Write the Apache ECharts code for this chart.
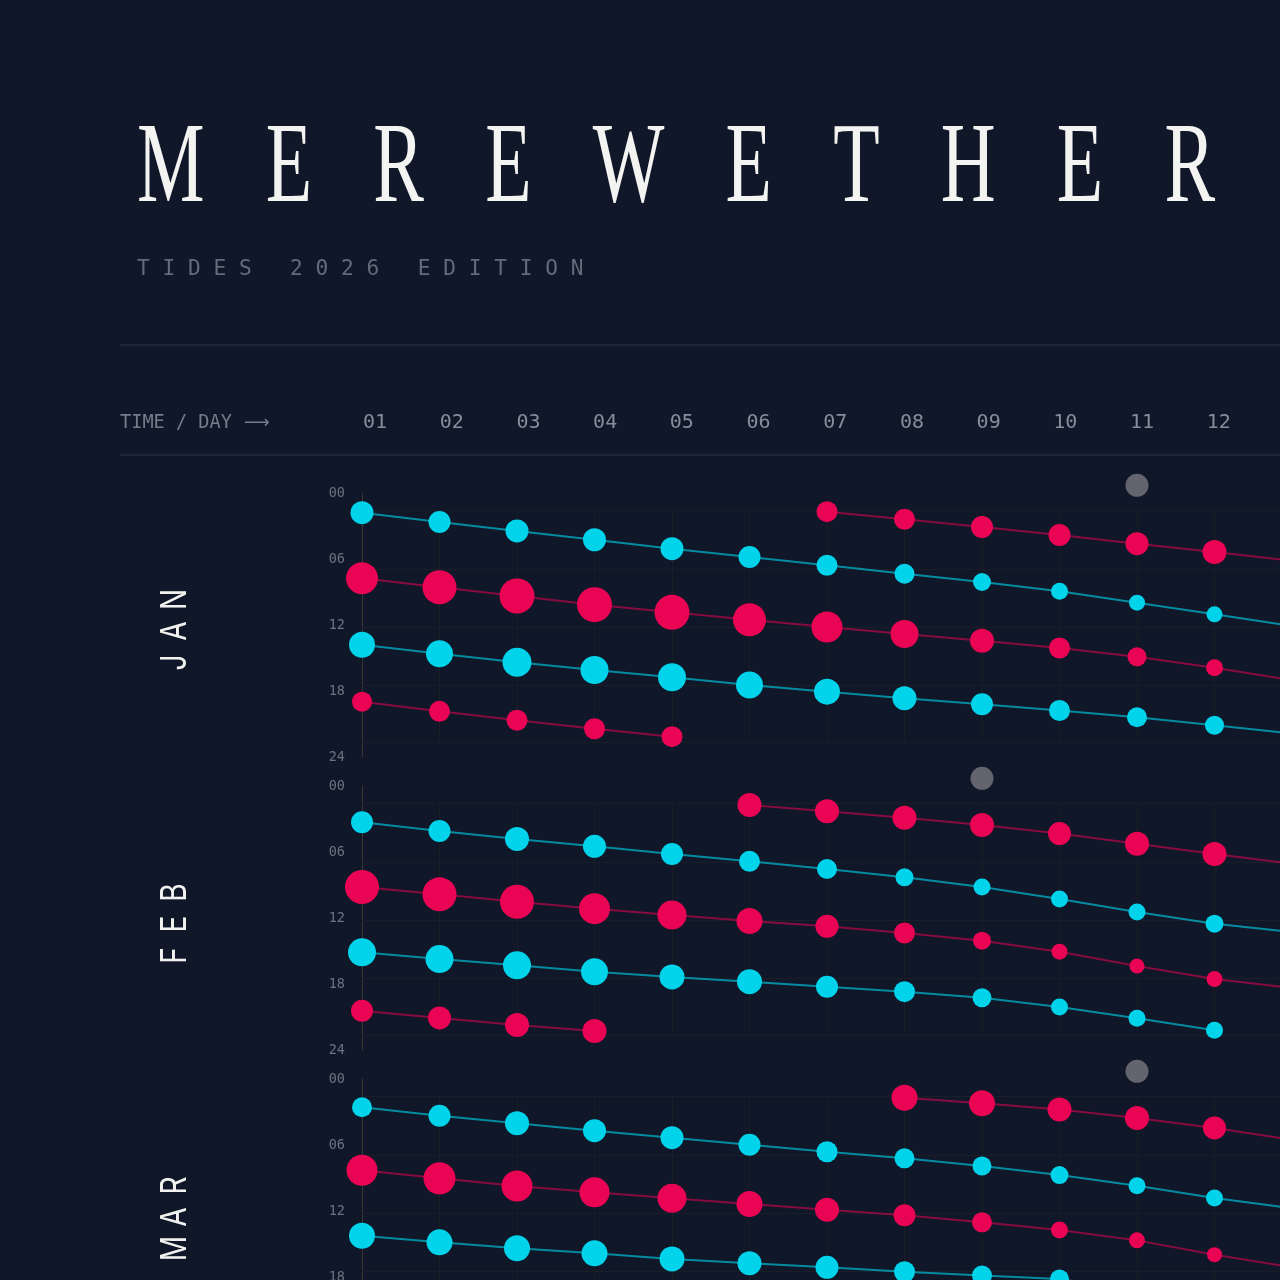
<!DOCTYPE html>
<html>
<head>
<meta charset="utf-8">
<title>Merewether tides</title>
<script src="https://cdn.jsdelivr.net/npm/echarts@6/dist/echarts.min.js"></script>
<style>
    html, body { margin: 0; padding: 0; width: 1280px; height: 1280px; overflow: hidden; background: #0f1729; }
    #tides { width: 1500px; height: 1500px; }
</style>
</head>
<body>
<div id="tides"></div>
<script>
    // months shown, one panel each
    const months = ['JAN', 'FEB', 'MAR'];

    // tide tracks: [hour of day, height in m], one entry per day from the start day
    // JAN
    const janLowA = [[1.79, 1.15], [2.64, 1.10], [3.45, 1.15], [4.25, 1.15], [5.06, 1.15], [5.82, 1.10], [6.57, 1.05], [7.34, 1.00], [8.09, 0.90], [8.94, 0.85], [9.97, 0.80], [11.03, 0.80], [12.10, 0.75]];
    const janHighB = [[1.70, 1.05], [2.39, 1.05], [3.09, 1.10], [3.82, 1.10], [4.61, 1.15], [5.36, 1.20], [6.15, 1.20]];
    const janHighC = [[7.75, 1.60], [8.57, 1.70], [9.36, 1.75], [10.15, 1.75], [10.85, 1.75], [11.52, 1.65], [12.18, 1.55], [12.82, 1.40], [13.43, 1.20], [14.09, 1.05], [14.88, 0.95], [15.88, 0.85], [17.02, 0.80]];
    const janLowD = [[13.79, 1.30], [14.61, 1.35], [15.39, 1.45], [16.09, 1.40], [16.75, 1.40], [17.45, 1.35], [18.06, 1.30], [18.66, 1.20], [19.21, 1.10], [19.77, 1.05], [20.39, 1.00], [21.12, 0.95], [21.87, 0.90]];
    const janHighE = [[18.97, 1.00], [19.85, 1.05], [20.66, 1.05], [21.43, 1.05], [22.15, 1.05]];
    // FEB
    const febLowA = [[3.30, 1.10], [4.09, 1.10], [4.82, 1.20], [5.48, 1.15], [6.18, 1.10], [6.85, 1.05], [7.55, 1.00], [8.30, 0.90], [9.18, 0.85], [10.27, 0.85], [11.45, 0.85], [12.52, 0.90], [13.27, 0.90]];
    const febHighB = [[1.73, 1.20], [2.30, 1.20], [2.88, 1.20], [3.55, 1.20], [4.32, 1.15], [5.25, 1.20], [6.18, 1.20], [7.07, 1.20]];
    const febHighC = [[9.18, 1.70], [9.85, 1.70], [10.52, 1.70], [11.15, 1.55], [11.73, 1.45], [12.27, 1.30], [12.75, 1.15], [13.36, 1.05], [14.06, 0.90], [15.06, 0.80], [16.36, 0.75], [17.55, 0.80], [18.37, 0.85]];
    const febLowD = [[15.12, 1.40], [15.73, 1.40], [16.30, 1.40], [16.88, 1.35], [17.36, 1.25], [17.79, 1.25], [18.25, 1.10], [18.70, 1.05], [19.25, 0.95], [20.09, 0.85], [21.12, 0.85], [22.21, 0.85]];
    const febHighE = [[20.43, 1.10], [21.09, 1.15], [21.73, 1.20], [22.27, 1.20]];
    // MAR
    const marLowA = [[2.57, 1.00], [3.34, 1.10], [4.03, 1.20], [4.70, 1.15], [5.34, 1.15], [5.97, 1.10], [6.61, 1.05], [7.21, 1.00], [7.91, 0.95], [8.73, 0.90], [9.70, 0.85], [10.82, 0.85], [11.75, 0.85]];
    const marHighB = [[1.70, 1.30], [2.21, 1.30], [2.77, 1.20], [3.55, 1.20], [4.45, 1.15], [5.53, 1.15]];
    const marHighC = [[8.30, 1.55], [9.03, 1.60], [9.73, 1.55], [10.30, 1.50], [10.85, 1.45], [11.36, 1.30], [11.88, 1.20], [12.39, 1.10], [13.03, 1.00], [13.73, 0.85], [14.67, 0.80], [15.97, 0.75], [17.11, 0.75]];
    const marLowD = [[14.25, 1.30], [14.85, 1.30], [15.39, 1.30], [15.85, 1.30], [16.36, 1.25], [16.75, 1.20], [17.12, 1.15], [17.52, 1.05], [17.86, 1.00], [18.18, 0.95], [19.30, 0.90], [20.10, 0.90]];

    // moon phase marker: day of month, drawn just above midnight
    const moonDays = [11, 9, 11];
    const moonHour = -0.7;

    // faint guide rows (hours) inside each panel
    const guideHours = [1.55, 6.9, 12.2, 17.45, 22.65];

    const tracks = [
        {m: 0, tide: 'low', start: 1, pts: janLowA},
        {m: 0, tide: 'high', start: 7, pts: janHighB},
        {m: 0, tide: 'high', start: 1, pts: janHighC},
        {m: 0, tide: 'low', start: 1, pts: janLowD},
        {m: 0, tide: 'high', start: 1, pts: janHighE},
        {m: 1, tide: 'low', start: 1, pts: febLowA},
        {m: 1, tide: 'high', start: 6, pts: febHighB},
        {m: 1, tide: 'high', start: 1, pts: febHighC},
        {m: 1, tide: 'low', start: 1, pts: febLowD},
        {m: 1, tide: 'high', start: 1, pts: febHighE},
        {m: 2, tide: 'low', start: 1, pts: marLowA},
        {m: 2, tide: 'high', start: 8, pts: marHighB},
        {m: 2, tide: 'high', start: 1, pts: marHighC},
        {m: 2, tide: 'low', start: 1, pts: marLowD}
    ];

    const colors = {
        low: '#00d3ea', lowLine: 'rgba(0,211,234,0.62)',
        high: '#ea0454', highLine: 'rgba(234,4,84,0.55)',
        moon: '#78787f', guide: '#1a1e27', axis: '#3a352f'
    };

    const colW = 77.5;
    const panelTop = [493, 786, 1079];
    const panelH = 264;
    const pad2 = v => String(v).padStart(2, '0');
    const mono = '"DejaVu Sans Mono", monospace';

    const grids = [], xAxes = [], yAxes = [], series = [], graphic = [];

    months.forEach((name, m) => {
        grids.push({left: 362, top: panelTop[m], width: colW * 14, height: panelH});
        xAxes.push({
            type: 'value', gridIndex: m, min: 1, max: 15, interval: 1,
            axisLine: {show: false}, axisTick: {show: false}, splitLine: {show: false},
            axisLabel: {show: false}
        });
        yAxes.push({
            type: 'value', gridIndex: m, inverse: true, min: 0, max: 24, interval: 6,
            axisLine: {show: true, lineStyle: {color: colors.axis, width: 1}},
            axisTick: {show: false}, splitLine: {show: false},
            axisLabel: {
                margin: 17, color: '#6c7280', fontSize: 13.5, fontFamily: mono,
                formatter: v => pad2(v)
            }
        });

        // guide lines: rows + day columns
        const marks = guideHours.map(h => ({yAxis: h}));
        for (let d = 2; d <= 15; d++) {
            marks.push([{coord: [d, guideHours[0]]}, {coord: [d, guideHours[guideHours.length - 1]]}]);
        }
        series.push({
            type: 'line', xAxisIndex: m, yAxisIndex: m, data: [[1, 0]],
            symbol: 'none', lineStyle: {opacity: 0}, silent: true, z: 1,
            markLine: {
                silent: true, z: 1, symbol: ['none', 'none'], label: {show: false},
                lineStyle: {color: colors.guide, width: 1.2, type: 'solid'},
                emphasis: {disabled: true},
                data: marks
            }
        });

        series.push({
            type: 'scatter', xAxisIndex: m, yAxisIndex: m, clip: false,
            data: [[moonDays[m], moonHour]], symbolSize: 23,
            itemStyle: {color: colors.moon}, silent: true, z: 4
        });

        // month label, letters spaced and rotated
        const letters = name.split('');
        const midY = panelTop[m] + panelH / 2 + 6;
        letters.forEach((ch, i) => {
            graphic.push({
                type: 'text', x: 175, y: midY + (1 - i) * 31.5,
                rotation: Math.PI / 2, scaleX: 0.78,
                style: {
                    text: ch, fill: '#f1f1ef', align: 'center', verticalAlign: 'middle',
                    font: '400 36px Inter, "DejaVu Sans", sans-serif'
                }
            });
        });
    });

    // header row of day numbers (slightly tighter pitch than the columns)
    grids.push({left: 363, top: 423, width: 76.7 * 14, height: 1});
    xAxes.push({
        type: 'value', gridIndex: 3, min: 1, max: 15, interval: 1, position: 'top',
        axisLine: {show: false}, axisTick: {show: false}, splitLine: {show: false},
        axisLabel: {
            margin: 0, align: 'left', verticalAlign: 'middle',
            color: '#878d9a', fontSize: 20, fontFamily: mono,
            formatter: v => pad2(v)
        }
    });
    yAxes.push({type: 'value', gridIndex: 3, show: false});

    tracks.forEach(t => {
        series.push({
            type: 'line', xAxisIndex: t.m, yAxisIndex: t.m,
            data: t.pts.map((p, i) => [t.start + i, p[0], p[1]]),
            symbol: 'circle', showSymbol: true,
            symbolSize: v => v[2] * 20,
            itemStyle: {color: colors[t.tide]},
            lineStyle: {color: colors[t.tide + 'Line'], width: 2},
            silent: true, z: 3
        });
    });

    // title, spaced condensed serif
    const title = 'MEREWETHER';
    const titleFont = '115px "Liberation Serif", serif';
    const sx = 0.66;
    const ctx = document.createElement('canvas').getContext('2d');
    ctx.font = titleFont;
    const widths = title.split('').map(c => ctx.measureText(c).width * sx);
    const gap = (1078 - widths.reduce((a, b) => a + b, 0)) / (title.length - 1);
    let tx = 137;
    title.split('').forEach((c, i) => {
        graphic.push({
            type: 'text', x: tx, y: 171, scaleX: sx,
            style: {text: c, font: titleFont, fill: '#f3f3f1', align: 'left', verticalAlign: 'middle'}
        });
        tx += widths[i] + gap;
    });

    graphic.push(
        {
            type: 'text', x: 137, y: 269,
            style: {
                text: 'T I D E S   2 0 2 6   E D I T I O N', fill: '#646b7a',
                font: '21.2px ' + mono, align: 'left', verticalAlign: 'middle'
            }
        },
        {type: 'line', shape: {x1: 120, y1: 345, x2: 1500, y2: 345}, style: {stroke: '#242b39', lineWidth: 1.5}},
        {type: 'line', shape: {x1: 120, y1: 455, x2: 1500, y2: 455}, style: {stroke: '#242b39', lineWidth: 1.5}},
        {
            type: 'text', x: 120, y: 423,
            style: {
                text: 'TIME / DAY', fill: '#767c8a',
                font: '18.6px ' + mono, align: 'left', verticalAlign: 'middle'
            }
        },
        {
            type: 'text', x: 244, y: 423,
            style: {
                text: '\u27F6', fill: '#767c8a',
                font: '18px "DejaVu Sans", sans-serif', align: 'left', verticalAlign: 'middle'
            }
        }
    );

    const chart = echarts.init(document.getElementById('tides'), null, {renderer: 'canvas'});
    chart.setOption({
        backgroundColor: '#0f1729',
        animation: false,
        grid: grids,
        xAxis: xAxes,
        yAxis: yAxes,
        series: series,
        graphic: graphic
    });
</script>
</body>
</html>
